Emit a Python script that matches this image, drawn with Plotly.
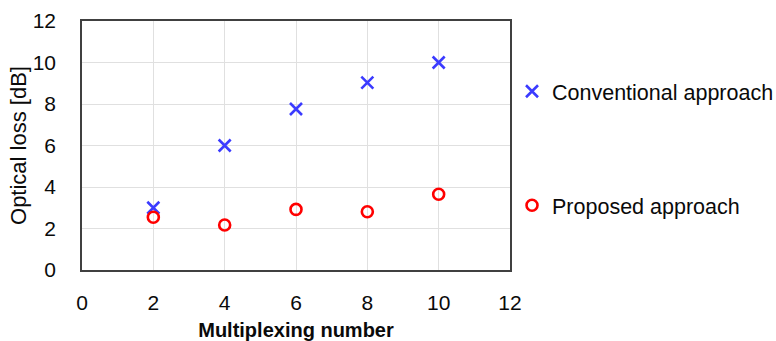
import plotly.graph_objects as go

mux = [2, 4, 6, 8, 10]
conventional = [3.0, 6.0, 7.76, 9.03, 10.0]
proposed = [2.54, 2.17, 2.92, 2.81, 3.65]
ticks = [0, 2, 4, 6, 8, 10, 12]

fig = go.Figure()
fig.add_trace(go.Scatter(x=mux, y=conventional, mode="markers", name="Conventional approach",
                         legendgroup="a",
                         marker=dict(symbol="x-thin", size=12, line=dict(width=2.6, color="#3b3bff"), color="#3b3bff")))
fig.add_trace(go.Scatter(x=mux, y=proposed, mode="markers", name="Proposed approach",
                         legendgroup="b",
                         marker=dict(symbol="circle-open", size=11, line=dict(width=2.6, color="#ff0000"), color="#ff0000")))

font = "Liberation Sans, Arial, sans-serif"
fig.update_layout(
    width=776, height=341,
    margin=dict(l=82, r=266, t=21, b=71, autoexpand=False),
    paper_bgcolor="white", plot_bgcolor="white",
    font=dict(family=font, size=21, color="#0a0a0a"),
    showlegend=True,
    legend=dict(x=1.0047, y=0.8, xanchor="left", yanchor="top", tracegroupgap=83,
                traceorder="grouped", font=dict(size=21.5, color="#0a0a0a"), itemwidth=30,
                bgcolor="rgba(0,0,0,0)"),
)
fig.update_xaxes(range=[0, 12], tickvals=ticks, showgrid=True, gridcolor="#e0e0e0", gridwidth=1,
                 showline=True, linecolor="#404040", linewidth=1.5, mirror=True, automargin=False,
                 ticks="", ticklabelstandoff=13, zeroline=False,
                 tickfont=dict(size=21),
                 title=dict(text="<b>Multiplexing number</b>", font=dict(size=20), standoff=21))
fig.update_yaxes(range=[0, 12], tickvals=ticks, showgrid=True, gridcolor="#e0e0e0", gridwidth=1,
                 showline=True, linecolor="#404040", linewidth=1.5, mirror=True, automargin=False,
                 ticks="", ticklabelstandoff=20, zeroline=False,
                 tickfont=dict(size=21),
                 title=dict(text="Optical loss [dB]", font=dict(size=22), standoff=0))
fig.write_html("out.html", config={"displayModeBar": False},
               post_script="document.body.style.margin='0';document.body.style.padding='0';")
